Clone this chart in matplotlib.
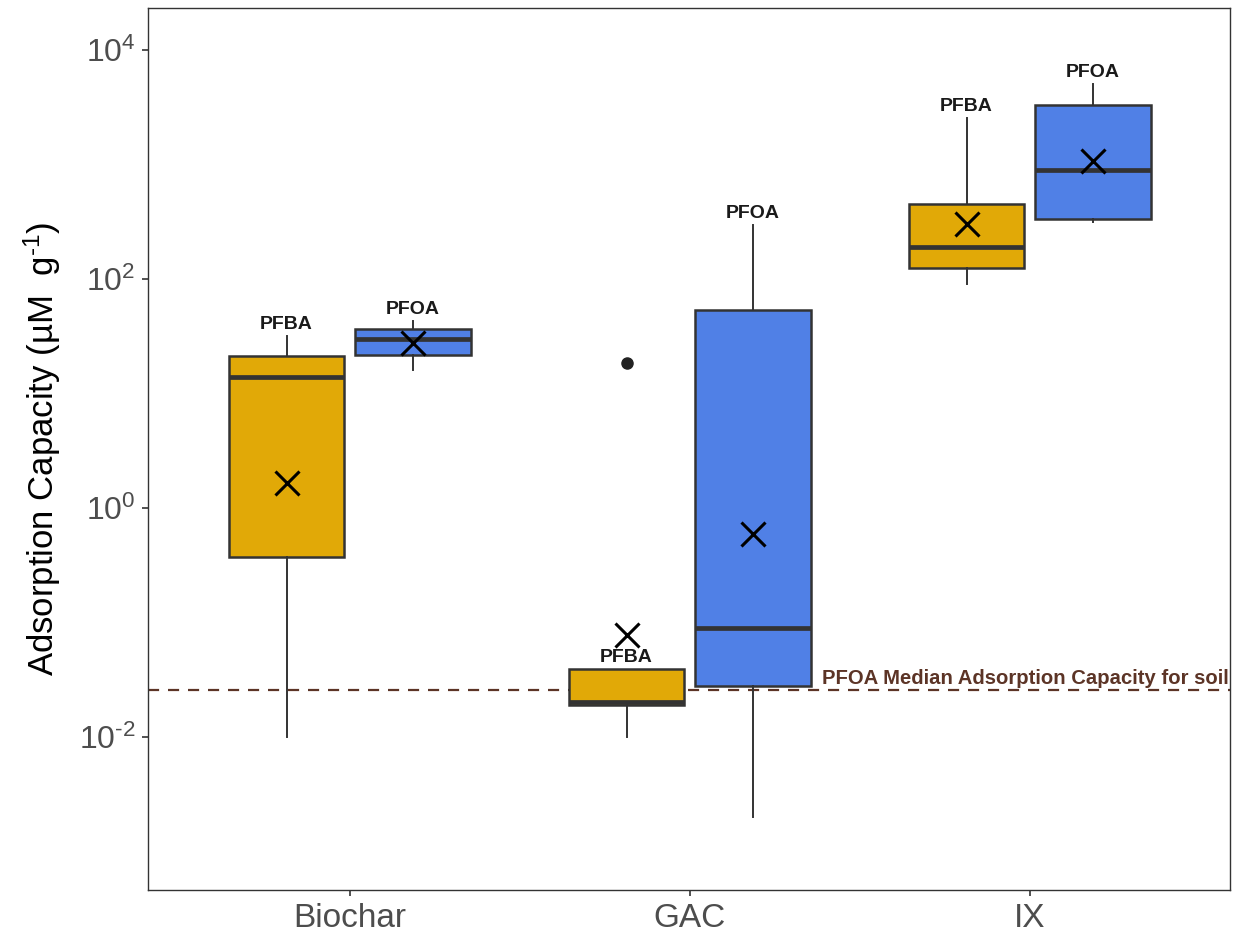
import matplotlib
matplotlib.use("Agg")
import matplotlib.pyplot as plt
from matplotlib.ticker import FixedLocator, NullLocator

plt.rcParams['font.family'] = ['Liberation Sans', 'DejaVu Sans']
plt.rcParams['mathtext.fontset'] = 'custom'
plt.rcParams['mathtext.rm'] = 'Liberation Sans'
plt.rcParams['mathtext.it'] = 'Liberation Sans:italic'
plt.rcParams['mathtext.bf'] = 'Liberation Sans:bold'

# Daten
materials = ['Biochar', 'GAC', 'IX']
compounds = ['PFBA', 'PFOA']

pfba_q1 = [0.373, 0.019, 125]
pfba_med = [13.9, 0.020, 190]
pfba_q3 = [21.3, 0.039, 452]
pfba_lo = [0.01, 0.01, 90]
pfba_hi = [31.8, 0.039, 2548]
pfba_mean = [1.65, 0.078, 302]
pfba_out = [[], [18.5], []]

pfoa_q1 = [21.7, 0.0279, 334]
pfoa_med = [29.9, 0.0895, 895]
pfoa_q3 = [36.6, 53.6, 3311]
pfoa_lo = [16.0, 0.002, 315]
pfoa_hi = [43.0, 296, 5050]
pfoa_mean = [27.6, 0.593, 1072]
pfoa_out = [[], [], []]

soil_median = 0.0257

colors = {'PFBA': '#E1A907', 'PFOA': '#5080E6'}
edge = '#333333'

def make_stats(q1, med, q3, lo, hi, mean, out):
    return [dict(q1=q1[i], med=med[i], q3=q3[i], whislo=lo[i], whishi=hi[i],
                 mean=mean[i], fliers=out[i]) for i in range(len(q1))]

data = {
    'PFBA': make_stats(pfba_q1, pfba_med, pfba_q3, pfba_lo, pfba_hi, pfba_mean, pfba_out),
    'PFOA': make_stats(pfoa_q1, pfoa_med, pfoa_q3, pfoa_lo, pfoa_hi, pfoa_mean, pfoa_out),
}
offsets = {'PFBA': -0.186, 'PFOA': 0.186}

fig = plt.figure(figsize=(12.36, 9.36), dpi=100)
ax = fig.add_axes([0.1197, 0.0491, 0.8753, 0.9424])
ax.set_yscale('log')

xs = list(range(1, len(materials) + 1))
for comp in compounds:
    pos = [x + offsets[comp] for x in xs]
    ax.bxp(data[comp], positions=pos, widths=0.34, patch_artist=True,
           showmeans=True, showcaps=False, manage_ticks=False,
           boxprops=dict(facecolor=colors[comp], edgecolor=edge, linewidth=1.8),
           medianprops=dict(color=edge, linewidth=3.4),
           whiskerprops=dict(color=edge, linewidth=1.4),
           flierprops=dict(marker='o', markerfacecolor='#222222', markeredgecolor='#222222',
                           markersize=8),
           meanprops=dict(marker='x', markeredgecolor='black', markersize=17,
                          markeredgewidth=2.2))
    for p, st in zip(pos, data[comp]):
        ax.annotate(comp, (p, st['whishi']), xytext=(0, 2), textcoords='offset points',
                    ha='center', va='bottom', fontsize=14, fontweight='bold', color='#1a1a1a')

ax.axhline(soil_median, color='#5C3426', linestyle=(0, (5, 4)), linewidth=1.6, zorder=1)
ax.annotate('PFOA Median Adsorption Capacity for soil', (3.585, soil_median),
            xytext=(0, 4), textcoords='offset points', ha='right', va='baseline',
            fontsize=14.6, fontweight='bold', color='#5C3426')

ax.set_xlim(0.406, 3.588)
ax.set_ylim(10 ** -3.34, 10 ** 4.37)
ax.set_xticks(xs)
ax.set_xticklabels(materials, fontsize=24, color='#4d4d4d')
ax.yaxis.set_major_locator(FixedLocator([1e-2, 1e0, 1e2, 1e4]))
ax.yaxis.set_minor_locator(NullLocator())
ax.set_yticklabels(['$10^{\u20102}$', '$10^{0}$', '$10^{2}$', '$10^{4}$'], fontsize=23, color='#4d4d4d')
ax.tick_params(axis='both', length=4, width=1.2, color='#333333', pad=5)
ax.set_ylabel('Adsorption Capacity (µM  g$^{\u20101}$)', fontsize=25, labelpad=11)
for s in ax.spines.values():
    s.set_color('#333333')
    s.set_linewidth(1)

fig.savefig('out.png', dpi=100)
